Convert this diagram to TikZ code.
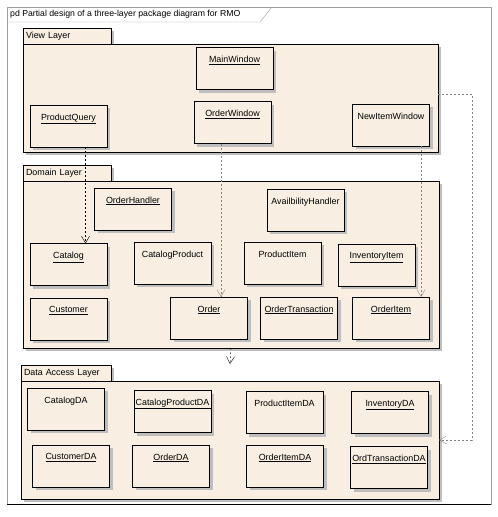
\documentclass[tikz,border=0pt]{standalone}
\usepackage{fontspec}
\setmainfont{Liberation Sans}
\usepackage{xcolor}
\usepackage{tikz}
\usetikzlibrary{calc}
\usetikzlibrary{positioning}
\usetikzlibrary{arrows.meta}
\usetikzlibrary{shadows}

\definecolor{pkgfill}{RGB}{248,239,226}
\definecolor{shadowgray}{RGB}{190,190,190}
\definecolor{framegray}{RGB}{160,160,160}
\definecolor{depgray}{RGB}{130,130,130}

\tikzset{
	boxshadow/.style={general shadow={fill=shadowgray,shadow xshift=3pt,shadow yshift=-3pt}},
	cls/.style={draw,fill=pkgfill,minimum width=77pt,minimum height=42pt,inner sep=0pt,outer sep=0pt,boxshadow},
	clsname/.style={anchor=north,yshift=-6.5pt,inner sep=2pt,font=\fontsize{8.9}{10}\selectfont},
	layer/.style={draw,fill=pkgfill,inner sep=0pt,outer sep=0pt,boxshadow},
	layertab/.style={draw,fill=pkgfill,anchor=north west,minimum height=16pt,text width=82pt,inner xsep=3pt,inner ysep=0pt,outer sep=0pt,align=left,font=\fontsize{8.9}{10}\selectfont,boxshadow},
	dep/.style={dash pattern=on 2pt off 2pt,-{Straight Barb[length=7pt,width=8pt]}}
}

\begin{document}
\begin{tikzpicture}[x=1pt,y=-1pt]
	\useasboundingbox (0,0) rectangle (498,517);
	\draw[framegray] (7,7) rectangle (491,504);
	\draw (7,504) -- (491,504);
	\draw[framegray] (7,22) -- (260,22) -- (272,7);
	\node[anchor=west,inner sep=0pt,font=\fontsize{8.7}{10}\selectfont] (title) at (10,14.5) {pd Partial design of a three-layer package diagram for RMO};

	\node[layertab] (viewtab) at (23,28) {View Layer};
	\node[layer,minimum width=415pt,minimum height=108pt,below right=0pt and 0pt of viewtab.south west] (view) {};
	\node[cls,label={[clsname]north:\underline{MainWindow}}] (mainwin) at (234.5,68.5) {};
	\node[cls,label={[clsname]north:\underline{OrderWindow}}] (orderwin) at (232.5,122.5) {};
	\node[cls,label={[clsname]north:\underline{ProductQuery}}] (prodquery) at (68.5,126) {};
	\node[cls,label={[clsname]north:NewItemWindow}] (newitemwin) at (391,125) {};

	\node[layertab] (domaintab) at (23,165) {Domain Layer};
	\node[layer,minimum width=416pt,minimum height=167pt,below right=0pt and 0pt of domaintab.south west] (domain) {};
	\node[cls,label={[clsname]north:\underline{OrderHandler}}] (orderhandler) at (133,209) {};
	\node[cls,label={[clsname]north:AvailbilityHandler}] (availhandler) at (305.5,210) {};
	\node[cls,label={[clsname]north:\underline{Catalog}}] (catalog) at (68.5,264.5) {};
	\node[cls,label={[clsname]north:CatalogProduct}] (catprod) at (172.5,263) {};
	\node[cls,label={[clsname]north:ProductItem}] (proditem) at (282.5,263) {};
	\node[cls,label={[clsname]north:\underline{InventoryItem}}] (invitem) at (376.5,265) {};
	\node[cls,label={[clsname]north:\underline{Customer}}] (customer) at (68.5,319) {};
	\node[cls,label={[clsname]north:\underline{Order}}] (order) at (209,318) {};
	\node[cls,label={[clsname]north:\underline{OrderTransaction}}] (ordtrans) at (299,318) {};
	\node[cls,label={[clsname]north:\underline{OrderItem}}] (orderitem) at (391,318) {};

	\node[layertab,text width=84pt] (datatab) at (21,365) {Data Access Layer};
	\node[layer,minimum width=418pt,minimum height=118pt,below right=0pt and 0pt of datatab.south west] (data) {};
	\node[cls,label={[clsname]north:CatalogDA}] (catalogda) at (66,409) {};
	\node[cls,label={[clsname]north:CatalogProductDA}] (catprodda) at (172.5,411.5) {};
	\draw ([yshift=-18pt]catprodda.north west) -- ([yshift=-18pt]catprodda.north east);
	\node[cls,label={[clsname]north:ProductItemDA}] (proditemda) at (284.5,412.5) {};
	\node[cls,label={[clsname]north:\underline{InventoryDA}}] (invda) at (390,412.5) {};
	\node[cls,label={[clsname]north:\underline{CustomerDA}}] (customerda) at (71,466) {};
	\node[cls,label={[clsname]north:\underline{OrderDA}}] (orderda) at (171,466) {};
	\node[cls,label={[clsname]north:\underline{OrderItemDA}}] (orderitemda) at (285,466) {};
	\node[cls,label={[clsname]north:\underline{OrdTransactionDA}}] (ordtransda) at (389,467.5) {};

	\draw[dep] ([xshift=17pt]prodquery.south) -- ([xshift=17pt]prodquery.south |- catalog.north);
	\draw[dep,depgray] ([xshift=-11.5pt]orderwin.south) -- ([xshift=-11.5pt]orderwin.south |- order.north);
	\draw[dep,depgray] ([xshift=30pt]newitemwin.south) -- ([xshift=30pt]newitemwin.south |- orderitem.north);
	\coordinate (datain) at ([yshift=17pt]data.north);
	\draw[dep] (domain.south) -- (datain);
	\draw[dep,depgray] ([yshift=4pt]view.east) -- ++(34,0) |- (data.east);
\end{tikzpicture}
\end{document}
